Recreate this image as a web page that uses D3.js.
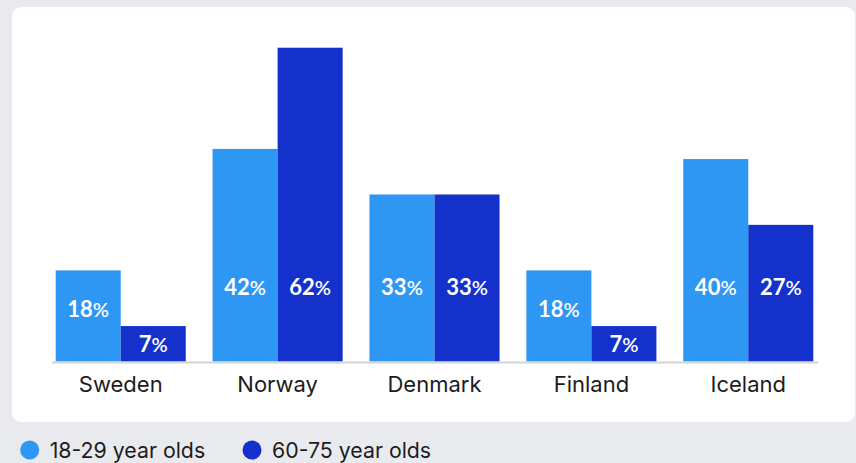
<!DOCTYPE html>
<html>
<head>
<meta charset="utf-8">
<script src="https://cdn.jsdelivr.net/npm/d3@7"></script>
<style>
  html, body { margin: 0; padding: 0; background: #e9eaee; }
  svg { display: block; font-family: "Lato", "Open Sans", sans-serif; }
</style>
</head>
<body>
<svg id="chart" width="856" height="463"></svg>
<script>
// data
var countries = ["Sweden", "Norway", "Denmark", "Finland", "Iceland"];
var seriesNames = ["18-29 year olds", "60-75 year olds"];
var young = [18, 42, 33, 18, 40];
var old = [7, 62, 33, 7, 27];
var colors = ["#2e96f3", "#1432cb"];
var textFont = "Inter, 'Open Sans', sans-serif";

var svg = d3.select("#chart");

// white card behind the chart
svg.append("rect")
    .attr("x", 12).attr("y", 7)
    .attr("width", 843).attr("height", 415)
    .attr("rx", 9).attr("ry", 9)
    .attr("fill", "#ffffff");

var baseline = 361.5;

var x = d3.scaleBand()
    .domain(countries)
    .range([55.7, 813.3])
    .paddingInner(0.171);

var xSub = d3.scaleBand()
    .domain([0, 1])
    .range([0, x.bandwidth()]);

var y = d3.scaleLinear()
    .domain([0, 62])
    .range([baseline, 47.7]);

var rows = countries.map(function (c, i) {
    return { country: c, values: [young[i], old[i]] };
});

var groups = svg.append("g").selectAll("g")
    .data(rows)
    .enter()
    .append("g")
    .attr("transform", function (d) { return "translate(" + x(d.country) + ",0)"; });

var bars = groups.selectAll("g")
    .data(function (d) { return d.values.map(function (v, k) { return { v: v, k: k }; }); })
    .enter()
    .append("g");

bars.append("rect")
    .attr("x", function (d) { return xSub(d.k); })
    .attr("y", function (d) { return y(d.v); })
    .attr("width", xSub.bandwidth())
    .attr("height", function (d) { return baseline - y(d.v); })
    .attr("fill", function (d) { return colors[d.k]; });

// value labels sit low in the bar, closer to the middle for short bars
var label = bars.append("text")
    .attr("x", function (d) { return xSub(d.k) + xSub.bandwidth() / 2; })
    .attr("y", function (d) {
        var h = baseline - y(d.v);
        var off = Math.min(74.5, h / 2 + (h - 35) / 8);
        return baseline - off;
    })
    .attr("dy", "0.36em")
    .attr("text-anchor", "middle")
    .attr("fill", "#ffffff")
    .attr("font-size", 22)
    .attr("font-weight", 700);
label.append("tspan").text(function (d) { return d.v; });
label.append("tspan").attr("font-size", 20).attr("font-weight", 600).text("%");

// axis line
svg.append("line")
    .attr("x1", 52).attr("x2", 818)
    .attr("y1", baseline + 1).attr("y2", baseline + 1)
    .attr("stroke", "#d3d4d8")
    .attr("stroke-width", 2);

var xAxis = d3.axisBottom(x).tickSize(0).tickPadding(0);
var gx = svg.append("g")
    .attr("transform", "translate(0," + 376 + ")")
    .call(xAxis);
gx.select(".domain").remove();
gx.selectAll("text")
    .attr("fill", "#1c1c1e")
    .attr("font-size", 22)
    .attr("font-family", textFont);

// legend
var legendX = [29.7, 252];
var legend = svg.append("g").selectAll("g")
    .data(seriesNames)
    .enter()
    .append("g")
    .attr("transform", function (d, i) { return "translate(" + legendX[i] + ",450)"; });

legend.append("circle")
    .attr("r", 9.5)
    .attr("fill", function (d, i) { return colors[i]; });

legend.append("text")
    .attr("x", 20)
    .attr("dy", "0.36em")
    .attr("font-size", 21.3)
    .attr("font-family", textFont)
    .attr("fill", "#1c1c1e")
    .text(function (d) { return d; });
</script>
</body>
</html>
